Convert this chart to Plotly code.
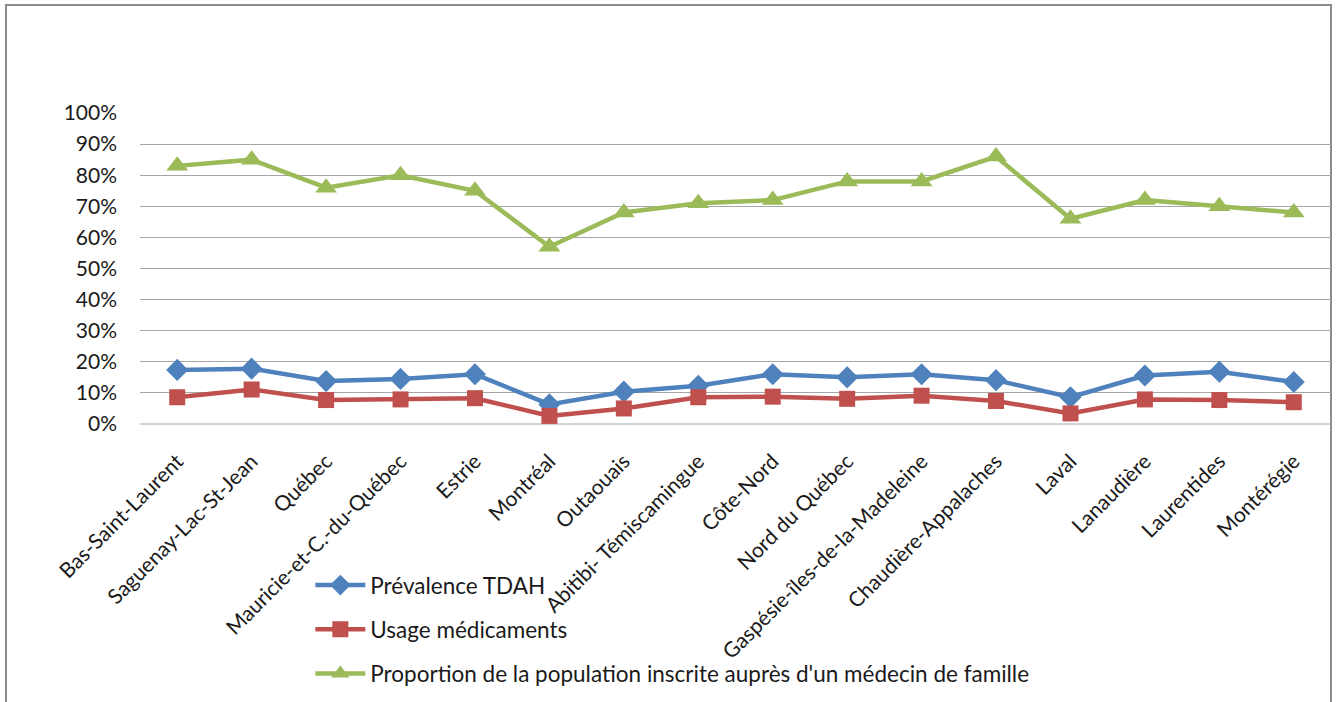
import plotly.graph_objects as go

regions = ["Bas-Saint-Laurent", "Saguenay-Lac-St-Jean", "Québec", "Mauricie-et-C.-du-Québec",
           "Estrie", "Montréal", "Outaouais", "Abitibi- Témiscamingue", "Côte-Nord",
           "Nord du Québec", "Gaspésie-îles-de-la-Madeleine", "Chaudière-Appalaches",
           "Laval", "Lanaudière", "Laurentides", "Montérégie"]

prevalence = [0.174, 0.178, 0.138, 0.145, 0.160, 0.063, 0.104, 0.123, 0.160, 0.150,
              0.160, 0.141, 0.086, 0.156, 0.168, 0.135]
medication = [0.086, 0.111, 0.077, 0.079, 0.083, 0.026, 0.050, 0.086, 0.088, 0.081,
              0.091, 0.074, 0.034, 0.079, 0.077, 0.070]
enrolled = [0.83, 0.85, 0.76, 0.80, 0.75, 0.57, 0.68, 0.71, 0.72, 0.78,
            0.78, 0.86, 0.66, 0.72, 0.70, 0.68]

y_ticks = [0, 0.1, 0.2, 0.3, 0.4, 0.5, 0.6, 0.7, 0.8, 0.9, 1.0]
y_labels = ["0%", "10%", "20%", "30%", "40%", "50%", "60%", "70%", "80%", "90%", "100%"]

series = [
    ("Prévalence TDAH", prevalence, "#4F81BD", "diamond", 17),
    ("Usage médicaments", medication, "#C0504D", "square", 16),
    ("Proportion de la population inscrite auprès d'un médecin de famille", enrolled, "#9BBB59", "triangle-up", 19),
]

fig = go.Figure()
for i, (name, vals, col, sym, sz) in enumerate(series):
    fig.add_trace(go.Scatter(
        x=regions, y=vals, name=name, mode="lines+markers",
        line=dict(color=col, width=4.5),
        marker=dict(symbol=sym, size=sz, color=col),
        legendgroup=f"g{i}",
    ))

font_family = "Lato, Open Sans, Noto Sans, sans-serif"

fig.update_layout(
    width=1336, height=702,
    margin=dict(l=140, r=5, t=113, b=278),
    paper_bgcolor="white", plot_bgcolor="white",
    font=dict(family=font_family, size=20, color="#1a1a1a"),
    showlegend=True,
    legend=dict(
        x=0.143, y=-0.45, xanchor="left", yanchor="top",
        traceorder="grouped", tracegroupgap=12,
        font=dict(size=22.5, family=font_family, color="#1a1a1a"),
        bgcolor="rgba(0,0,0,0)", itemwidth=50,
    ),
    xaxis=dict(
        type="category", tickangle=-45, showgrid=False, zeroline=False,
        showline=False, ticks="", tickfont=dict(size=21),
        range=[-0.5, len(regions) - 0.5], ticklabelstandoff=20,
    ),
    yaxis=dict(
        range=[0, 1.0], tickvals=y_ticks, ticktext=y_labels,
        showgrid=True, gridcolor="#A6A6A6", gridwidth=1,
        zeroline=False, showline=False, ticks="",
        tickfont=dict(size=21), ticklabelstandoff=22,
    ),
    shapes=[
        dict(type="rect", xref="paper", yref="paper",
             x0=(6 - 140) / 1191, x1=(1331 - 140) / 1191,
             y0=(424 - 720) / 311, y1=(424 - 5) / 311,
             line=dict(color="#8c8c8c", width=2), fillcolor="rgba(0,0,0,0)", layer="below"),
        dict(type="line", xref="paper", yref="paper",
             x0=0, x1=1, y0=0, y1=0,
             line=dict(color="#A6A6A6", width=1), layer="below"),
    ],
)

fig.write_html("out.html")
